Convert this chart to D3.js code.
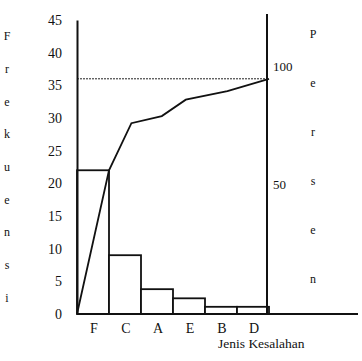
<!DOCTYPE html>
<html>
<head>
<meta charset="utf-8">
<script src="https://cdn.jsdelivr.net/npm/d3@7"></script>
<style>
  body { margin: 0; background: #fff; }
  text { font-family: "Liberation Serif", "DejaVu Serif", serif; fill: #111; }
</style>
</head>
<body>
<div id="chart"></div>
<script>
// data
const categories = ["F", "C", "A", "E", "B", "D"]
const frequency = [22, 9, 3.8, 2.4, 1.1, 1.1]
// cumulative line: position along the category axis (in bars) and value on the frequency scale
const cumPos = [0, 1, 1.7, 2.65, 3.4, 4.7, 6]
const cumValue = [0, 22, 29.2, 30.3, 32.8, 34.1, 36]
const total = 36
const yTicks = [0, 5, 10, 15, 20, 25, 30, 35, 40, 45]
const percentTicks = [50, 100]
const yTitle = "Frekuensi"
const y2Title = "Persen"
const xTitle = "Jenis Kesalahan"

const width = 362, height = 361
const margin = ({top: 20, right: 93, bottom: 47, left: 77})

const svg = d3.select("#chart").append("svg")
    .attr("width", width)
    .attr("height", height)

const x = d3.scaleBand()
    .domain(categories)
    .range([margin.left, width - margin.right])
    .padding(0)
const xPos = d3.scaleLinear()
    .domain([0, categories.length])
    .range([margin.left, width - margin.right])
const y = d3.scaleLinear()
    .domain([0, 45])
    .range([height - margin.bottom, margin.top])
const yPct = d3.scaleLinear()
    .domain([0, 100])
    .range([y(0), y(total)])

// bars
svg.append("g").selectAll("rect")
    .data(categories)
    .join("rect")
    .attr("x", d => x(d))
    .attr("y", (d, i) => y(frequency[i]))
    .attr("width", x.bandwidth())
    .attr("height", (d, i) => y(0) - y(frequency[i]))
    .attr("fill", "#fff")
    .attr("stroke", "#111")
    .attr("stroke-width", 1.8)

// dashed 100% line
svg.append("line")
    .attr("x1", margin.left).attr("x2", xPos(categories.length))
    .attr("y1", y(total)).attr("y2", y(total))
    .attr("stroke", "#222")
    .attr("stroke-width", 1)
    .attr("stroke-dasharray", "2,1")

// cumulative line
const line = d3.line()
    .x(d => xPos(d[0]))
    .y(d => y(d[1]))
svg.append("path")
    .datum(cumPos.map((p, i) => [p, cumValue[i]]))
    .attr("fill", "none")
    .attr("stroke", "#111")
    .attr("stroke-width", 1.8)
    .attr("d", line)

// left axis
const yAxis = d3.axisLeft(y)
    .tickValues(yTicks)
    .tickSize(0)
    .tickPadding(15)
svg.append("g")
    .attr("transform", `translate(${margin.left},0)`)
    .call(yAxis)
    .call(g => g.select(".domain").attr("stroke", "#111").attr("stroke-width", 2))
    .call(g => g.selectAll(".tick text")
        .style("font-family", "Liberation Serif, serif")
        .style("font-size", "14px")
        .attr("fill", "#111"))

// baseline
svg.append("line")
    .attr("x1", margin.left).attr("x2", width - 4)
    .attr("y1", y(0)).attr("y2", y(0))
    .attr("stroke", "#111").attr("stroke-width", 2)

// right axis
const xRight = xPos(categories.length) - 2
svg.append("line")
    .attr("x1", xRight).attr("x2", xRight)
    .attr("y1", y(0)).attr("y2", margin.top - 6)
    .attr("stroke", "#111").attr("stroke-width", 2)
svg.append("g").selectAll("text")
    .data(percentTicks)
    .join("text")
    .attr("x", xRight + 6)
    .attr("y", d => yPct(d) - 12)
    .attr("dy", "0.35em")
    .style("font-size", "13px")
    .text(d => d)

// category labels
svg.append("g").selectAll("text")
    .data(categories)
    .join("text")
    .attr("x", d => x(d) + x.bandwidth() / 2 + 1)
    .attr("y", y(0) + 14)
    .attr("dy", "0.35em")
    .attr("text-anchor", "middle")
    .style("font-size", "14px")
    .text(d => d)

svg.append("text")
    .attr("x", 218)
    .attr("y", y(0) + 29)
    .attr("dy", "0.35em")
    .style("font-size", "13.5px")
    .text(xTitle)

// stacked axis titles
svg.append("g").selectAll("text")
    .data(yTitle.split(""))
    .join("text")
    .attr("x", 7)
    .attr("y", (d, i) => 36 + i * 32.7)
    .attr("dy", "0.35em")
    .attr("text-anchor", "middle")
    .style("font-size", "12px")
    .text(d => d)

svg.append("g").selectAll("text")
    .data(y2Title.split(""))
    .join("text")
    .attr("x", 313)
    .attr("y", (d, i) => 34 + i * 49)
    .attr("dy", "0.35em")
    .attr("text-anchor", "middle")
    .style("font-size", "12px")
    .text(d => d)
</script>
</body>
</html>
